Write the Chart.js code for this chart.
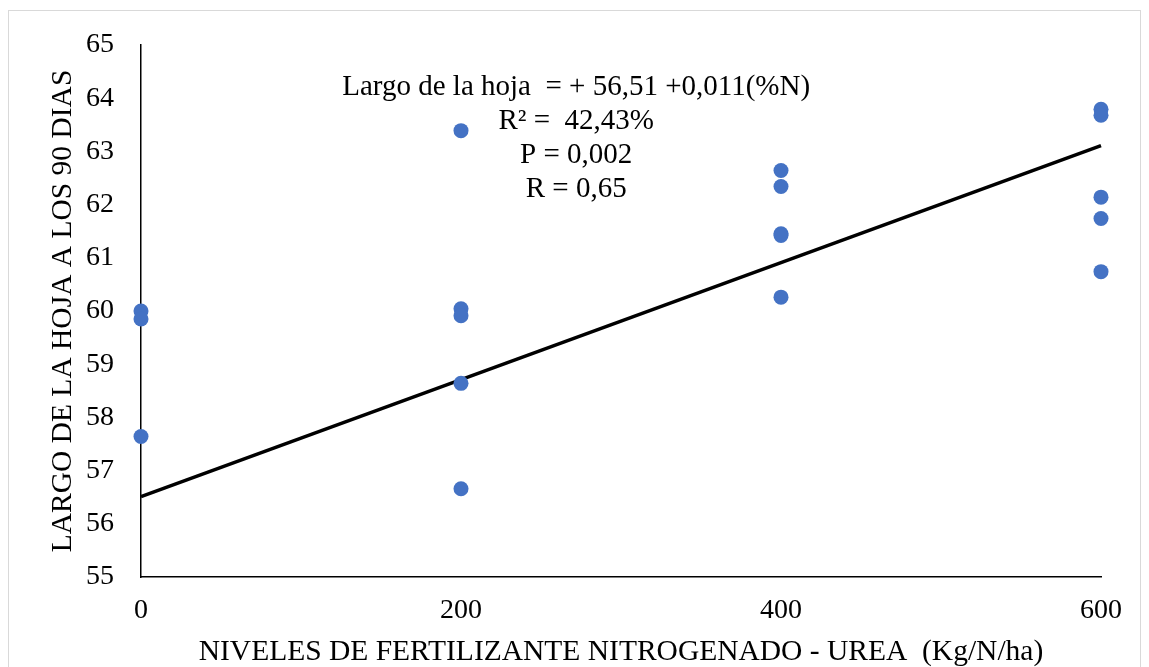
<!DOCTYPE html>
<html>
<head>
<meta charset="utf-8">
<script src="https://cdn.jsdelivr.net/npm/chart.js@4"></script>
<style>
  html, body { margin: 0; padding: 0; background: #fff; }
  #wrap { position: relative; width: 1149px; height: 667px; }
  canvas { display: block; }
</style>
</head>
<body>
<div id="wrap"><canvas id="c" width="1149" height="667"></canvas></div>
<script>
// Nitrogen levels (kg N/ha) and leaf length at 90 days, one entry per observation
const nitrogenLevels = [0, 0, 0,
                        200, 200, 200, 200, 200,
                        400, 400, 400, 400, 400,
                        600, 600, 600, 600, 600];
const leafLength = [60.00, 59.85, 57.64,
                    63.39, 60.04, 59.91, 58.64, 56.66,
                    62.64, 62.34, 61.45, 61.42, 60.26,
                    63.79, 63.68, 62.14, 61.74, 60.74];

// Fitted regression: length = intercept + slope * N
const intercept = 56.51;
const slope = 0.011;
const fitRange = [0, 600];

const xTicks = [0, 200, 400, 600];
const yTicks = [55, 56, 57, 58, 59, 60, 61, 62, 63, 64, 65];

const statsLines = [
  'Largo de la hoja  = + 56,51 +0,011(%N)',
  'R\u00B2 =  42,43%',
  'P = 0,002',
  'R = 0,65'
];

const serif = '"Liberation Serif", "Times New Roman", serif';

const points = nitrogenLevels.map((x, i) => ({ x: x, y: leafLength[i] }));
const fitLine = fitRange.map(x => ({ x: x, y: intercept + slope * x }));

// Light frame around the whole figure
const framePlugin = {
  id: 'frame',
  beforeDraw(chart) {
    const ctx = chart.ctx;
    ctx.save();
    ctx.strokeStyle = '#d9d9d9';
    ctx.lineWidth = 1;
    ctx.strokeRect(8.5, 10.5, 1132, 680);
    ctx.restore();
  }
};

// Regression statistics written above the points
const statsPlugin = {
  id: 'stats',
  afterDatasetsDraw(chart) {
    const ctx = chart.ctx;
    const xs = chart.scales.x, ys = chart.scales.y;
    const cx = xs.getPixelForValue(272);
    const y0 = ys.getPixelForValue(64.21);
    const step = ys.getPixelForValue(64) - ys.getPixelForValue(64.64);
    ctx.save();
    ctx.fillStyle = '#000';
    ctx.font = '29px ' + serif;
    ctx.textAlign = 'center';
    ctx.textBaseline = 'middle';
    statsLines.forEach((t, i) => ctx.fillText(t, cx, y0 + i * step));
    ctx.restore();
  }
};

new Chart(document.getElementById('c'), {
  type: 'scatter',
  data: {
    datasets: [
      {
        type: 'line',
        data: fitLine,
        borderColor: '#000',
        borderWidth: 3.5,
        pointRadius: 0,
        fill: false,
        clip: false,
        order: 2
      },
      {
        data: points,
        backgroundColor: '#4472C4',
        borderWidth: 0,
        pointRadius: 7.5,
        pointHoverRadius: 7.5,
        clip: false,
        order: 1
      }
    ]
  },
  options: {
    responsive: false,
    animation: false,
    events: [],
    layout: { padding: { left: 0, top: 45, right: 48, bottom: 0 } },
    plugins: { legend: { display: false }, tooltip: { enabled: false } },
    scales: {
      x: {
        type: 'linear',
        min: 0, max: 600,
        afterBuildTicks(s) { s.ticks = xTicks.map(v => ({ value: v })); },
        afterFit(s) { s.height = 90; },
        grid: { display: false, drawTicks: false },
        border: { display: true, color: '#000', width: 1.5 },
        ticks: { color: '#000', padding: 17, font: { family: serif, size: 28 } },
        title: {
          display: true,
          text: 'NIVELES DE FERTILIZANTE NITROGENADO - UREA  (Kg/N/ha)',
          color: '#000',
          font: { family: serif, size: 29.5, lineHeight: 1 },
          padding: { top: 0, bottom: 0 }
        }
      },
      y: {
        type: 'linear',
        min: 55, max: 65,
        afterBuildTicks(s) { s.ticks = yTicks.map(v => ({ value: v })); },
        afterFit(s) { s.width = 141; },
        grid: { display: false, drawTicks: false },
        border: { display: true, color: '#000', width: 1.5 },
        ticks: { color: '#000', padding: 27, font: { family: serif, size: 28 } },
        title: {
          display: true,
          text: 'LARGO DE LA HOJA A LOS 90 DIAS',
          color: '#000',
          font: { family: serif, size: 29.5, lineHeight: 1 },
          padding: { top: 48, bottom: 0 }
        }
      }
    }
  },
  plugins: [framePlugin, statsPlugin]
});
</script>
</body>
</html>
